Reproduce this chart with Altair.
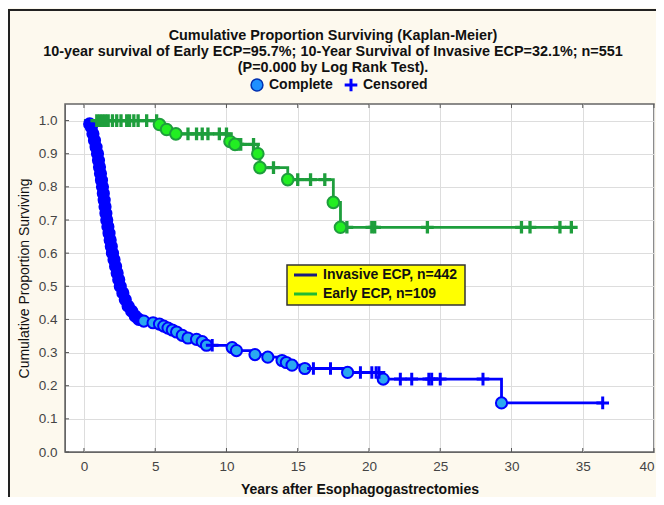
import altair as alt
import pandas as pd

# ---------------- data ----------------
TITLE_LINES = [
    "Cumulative Proportion Surviving (Kaplan-Meier)",
    "10-year survival of Early ECP=95.7%; 10-Year Survival of Invasive ECP=32.1%; n=551",
    "(P=0.000 by Log Rank Test).",
]
GROUPS = ["Invasive ECP, n=442", "Early ECP, n=109"]

# Invasive ECP - complete (death) events
inv_event_time = [0.40, 0.52, 0.63, 0.74, 0.85, 0.95, 1.02, 1.09, 1.16, 1.23, 1.30, 1.36,
                  1.42, 1.48, 1.54, 1.60, 1.68, 1.76, 1.84, 1.92, 2.00, 2.11, 2.22, 2.33,
                  2.44, 2.55, 2.73, 2.90, 3.10, 3.35, 3.60, 3.85,
                  4.2, 4.85, 5.3, 5.6, 5.9, 6.2, 6.5, 6.9, 7.3, 7.9, 8.3, 8.6,
                  10.4, 10.7, 12.0, 12.9, 13.9, 14.2, 14.6, 15.5, 18.5, 21.0, 29.3]
inv_event_surv = [0.99, 0.98, 0.96, 0.94, 0.92, 0.90, 0.88, 0.86, 0.84, 0.82, 0.80, 0.78,
                  0.76, 0.74, 0.72, 0.70, 0.68, 0.66, 0.64, 0.62, 0.60, 0.58, 0.56, 0.54,
                  0.52, 0.50, 0.48, 0.46, 0.44, 0.425, 0.41, 0.40,
                  0.395, 0.39, 0.386, 0.38, 0.374, 0.368, 0.362, 0.352, 0.344, 0.34, 0.333, 0.322,
                  0.315, 0.306, 0.294, 0.286, 0.276, 0.27, 0.262, 0.252, 0.24, 0.22, 0.148]
# Invasive ECP - censored
inv_cens_time = [9.0, 16.1, 17.3, 19.4, 20.2, 20.5, 20.7, 22.2, 23.0, 24.2, 24.4, 25.0, 28.0, 36.4]
inv_cens_surv = [0.322, 0.252, 0.252, 0.24, 0.24, 0.24, 0.24, 0.22, 0.22, 0.22, 0.22, 0.22, 0.22, 0.148]

# Early ECP - complete events
early_event_time = [5.3, 5.8, 6.45, 10.25, 10.6, 12.2, 12.35, 14.3, 17.5, 18.0]
early_event_surv = [0.988, 0.973, 0.96, 0.937, 0.928, 0.90, 0.858, 0.822, 0.753, 0.678]
# Early ECP - censored
early_cens_time = [0.9, 1.1, 1.3, 1.5, 1.7, 2.0, 2.3, 2.6, 3.0, 3.2, 3.5, 3.8, 4.4, 5.1,
                   7.3, 7.9, 8.3, 8.7, 9.5, 10.0, 10.8, 11.0, 11.9, 13.3, 15.0, 15.9, 16.9,
                   18.45, 20.2, 20.4, 24.1, 30.7, 31.3, 33.4, 34.2]
early_cens_surv = [1.0, 1.0, 1.0, 1.0, 1.0, 1.0, 1.0, 1.0, 1.0, 1.0, 1.0, 1.0, 1.0, 1.0,
                   0.96, 0.96, 0.96, 0.96, 0.96, 0.96, 0.928, 0.928, 0.928, 0.858, 0.822, 0.822, 0.822,
                   0.678, 0.678, 0.678, 0.678, 0.678, 0.678, 0.678, 0.678]

X_TICKS = [0, 5, 10, 15, 20, 25, 30, 35, 40]
Y_TICKS = [0.0, 0.1, 0.2, 0.3, 0.4, 0.5, 0.6, 0.7, 0.8, 0.9, 1.0]

# ---------------- tables ----------------
def line_table(group, et, es, ct, cs):
    rows = [(0.0, 1.0)] + list(zip(et, es)) + list(zip(ct, cs))
    rows.sort(key=lambda r: r[0])
    return pd.DataFrame({"t": [r[0] for r in rows], "s": [r[1] for r in rows], "group": group})

lines = pd.concat([
    line_table(GROUPS[0], inv_event_time, inv_event_surv, inv_cens_time, inv_cens_surv),
    line_table(GROUPS[1], early_event_time, early_event_surv, early_cens_time, early_cens_surv),
])
inv_ev = pd.DataFrame({"t": inv_event_time, "s": inv_event_surv})
inv_ce = pd.DataFrame({"t": inv_cens_time, "s": inv_cens_surv})
ear_ev = pd.DataFrame({"t": early_event_time, "s": early_event_surv})
ear_ce = pd.DataFrame({"t": early_cens_time, "s": early_cens_surv})
xt_df = pd.DataFrame({"t": X_TICKS})
yt_df = pd.DataFrame({"s": Y_TICKS})

FONT = "Liberation Sans"
BLUE = "#0000ff"
GREEN = "#1e9e3c"
PLUS = "M-1,0H1M0,-1V1"

xs = alt.Scale(domain=[-1.33, 40], nice=False, zero=False)
ys = alt.Scale(domain=[0, 1.05], nice=False, zero=False)
X_AXIS = alt.Axis(values=X_TICKS, title="Years after Esophagogastrectomies", labelOverlap=False)
Y_AXIS = alt.Axis(values=Y_TICKS, format=".1f", labelOverlap=False,
                  title="Cumulative Proportion Surviving")
X = alt.X("t:Q", scale=xs, axis=X_AXIS)
Y = alt.Y("s:Q", scale=ys, axis=Y_AXIS)

line_layer = alt.Chart(lines).mark_line(interpolate="step-after", strokeWidth=2.8).encode(
    x=X, y=Y,
    color=alt.Color("group:N", scale=alt.Scale(domain=GROUPS, range=[BLUE, GREEN]), legend=None),
)

inv_ev_layer = alt.Chart(inv_ev).mark_point(shape="circle", size=125, strokeWidth=2,
                                            stroke=BLUE, opacity=1, fillOpacity=1).encode(
    x=X, y=Y,
    fill=alt.condition("datum.t < 4", alt.value(BLUE), alt.value("#2aa8f0")),
)
inv_ce_layer = alt.Chart(inv_ce).mark_point(shape=PLUS, size=160, strokeWidth=3, filled=False,
                                            color=BLUE, opacity=1).encode(x=X, y=Y)
ear_ce_layer = alt.Chart(ear_ce).mark_point(shape=PLUS, size=160, strokeWidth=3.3, filled=False,
                                            color=GREEN, opacity=1).encode(x=X, y=Y)
ear_ev_layer = alt.Chart(ear_ev).mark_point(shape="circle", size=135, strokeWidth=2,
                                            stroke=GREEN, fill="#22ee22", opacity=1,
                                            fillOpacity=1).encode(x=X, y=Y)

# inward tick marks (bottom, top, left)
TICKC = "#555555"
xt_bottom = alt.Chart(xt_df).mark_rule(color=TICKC, strokeWidth=1).encode(
    x=X, y=alt.value(348), y2=alt.value(344))
xt_top = alt.Chart(xt_df).mark_rule(color=TICKC, strokeWidth=1).encode(
    x=X, y=alt.value(0), y2=alt.value(4))
yt_left = alt.Chart(yt_df).mark_rule(color=TICKC, strokeWidth=1).encode(
    y=Y, x=alt.value(0), x2=alt.value(4))

# titles
title_df = pd.DataFrame({"txt": TITLE_LINES, "yy": [-68, -52, -36]})
title_layer = alt.Chart(title_df).mark_text(font=FONT, fontSize=14.4, fontWeight="bold",
                                            color="#111111", align="center", baseline="middle").encode(
    text="txt:N", x=alt.value(268), y=alt.Y("yy:Q", scale=None))

one = pd.DataFrame({"k": [0]})
lg_circle = alt.Chart(one).mark_point(shape="circle", size=140, fill="#1e90ff", stroke="#0030b0",
                                      strokeWidth=1.5, opacity=1, fillOpacity=1).encode(
    x=alt.value(192), y=alt.value(-19))
lg_plus = alt.Chart(one).mark_point(shape=PLUS, size=160, strokeWidth=3, filled=False, color=BLUE,
                                    opacity=1).encode(x=alt.value(286), y=alt.value(-19))
lg_txt1 = alt.Chart(one).mark_text(text="Complete", font=FONT, fontSize=14, fontWeight="bold",
                                   color="#111111", align="left", baseline="middle").encode(
    x=alt.value(204), y=alt.value(-19))
lg_txt2 = alt.Chart(one).mark_text(text="Censored", font=FONT, fontSize=14, fontWeight="bold",
                                   color="#111111", align="left", baseline="middle").encode(
    x=alt.value(298), y=alt.value(-19))

# in-plot group legend box
LEG_COLORS = ["#1a1a80", "#22bb33"]
leg_df = pd.DataFrame({"label": GROUPS, "ly": [171, 190], "col": LEG_COLORS})
leg_box = alt.Chart(one).mark_rect(fill="#ffff00", stroke="#333333", strokeWidth=1.5).encode(
    x=alt.value(222), x2=alt.value(400), y=alt.value(161), y2=alt.value(201))
leg_lines = alt.Chart(leg_df).mark_rule(strokeWidth=3).encode(
    x=alt.value(229), x2=alt.value(252), y=alt.Y("ly:Q", scale=None),
    color=alt.Color("col:N", scale=None))
leg_text = alt.Chart(leg_df).mark_text(font=FONT, fontSize=14, fontWeight="bold", color="#111111",
                                       align="left", baseline="middle").encode(
    x=alt.value(258), y=alt.Y("ly:Q", scale=None), text="label:N")

frame = alt.Chart(one).mark_rect(fill="transparent", stroke="#222222", strokeWidth=2).encode(
    x=alt.value(-56), x2=alt.value(700), y=alt.value(-94), y2=alt.value(600))

chart = alt.layer(
    frame, xt_bottom, xt_top, yt_left,
    line_layer, inv_ev_layer, inv_ce_layer, ear_ce_layer, ear_ev_layer,
    leg_box, leg_lines, leg_text,
    title_layer, lg_circle, lg_plus, lg_txt1, lg_txt2,
).resolve_scale(color="independent").properties(
    width=589, height=348,
    autosize=alt.AutoSizeParams(type="none"),
    padding={"left": 57, "top": 96, "right": 2, "bottom": 45},
).configure(
    background="#fdf9ee",
).configure_view(
    fill="white", stroke="#666666", strokeWidth=1.5,
).configure_axis(
    labelFont=FONT, labelFontSize=13.5, labelColor="#444444",
    titleFont=FONT, titleFontSize=14, titleColor="#111111",
    gridColor="#dddddd", gridWidth=1, domainColor="#666666",
    ticks=False, tickSize=0, labelOverlap=False,
).configure_axisX(
    labelPadding=7, titleFontWeight="bold", titlePadding=10,
).configure_axisY(
    labelPadding=8, titleFontWeight="normal", titlePadding=7,
)

chart.save("out.html", embed_options={"renderer": "svg", "actions": False})
